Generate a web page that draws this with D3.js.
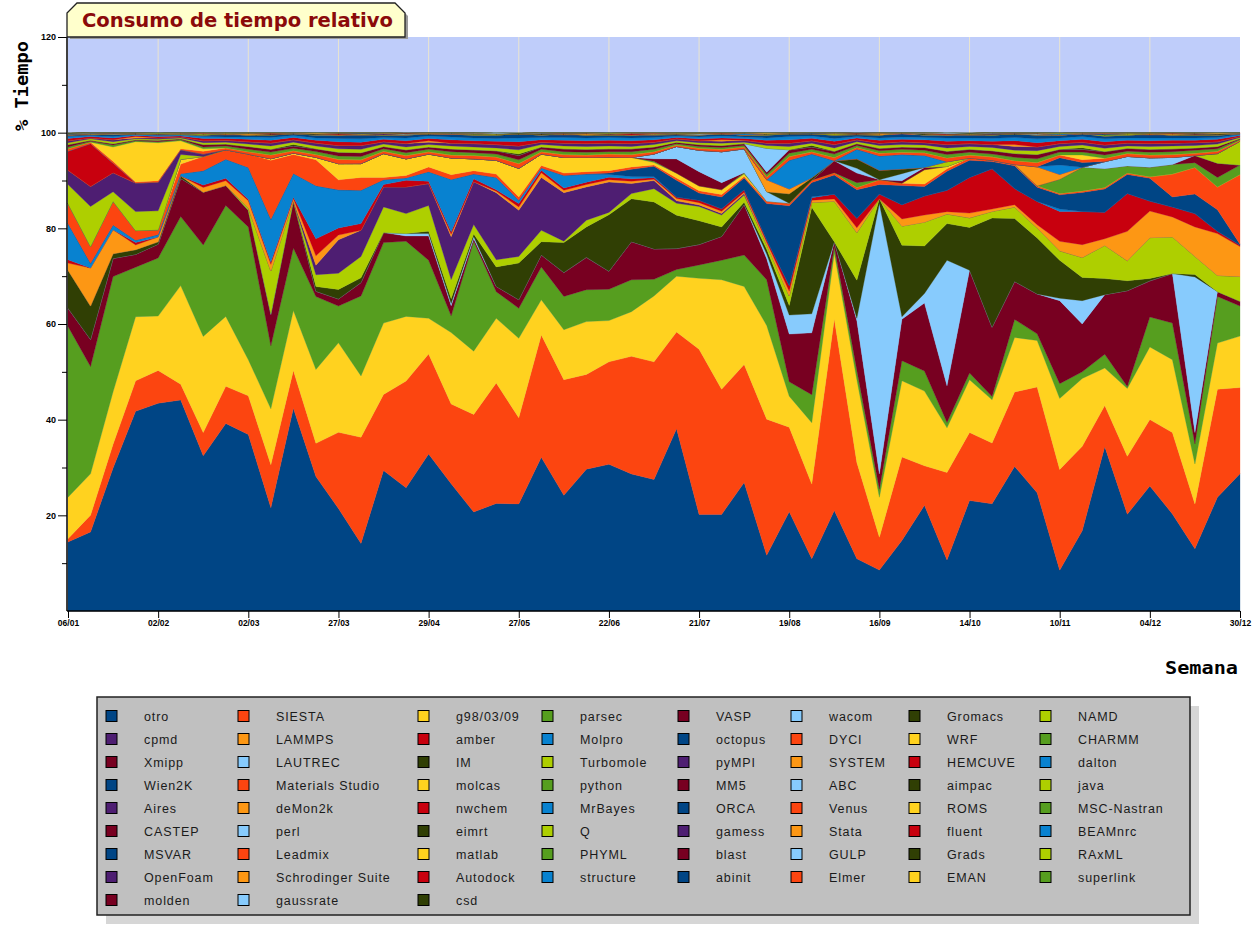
<!DOCTYPE html>
<html><head><meta charset="utf-8">
<script src="https://cdn.jsdelivr.net/npm/d3@7"></script>
<style>body{margin:0;background:#fff}svg{display:block}</style>
</head><body><svg id="c" width="1258" height="925"></svg>
<script>
// ---- data: % of time per week (53 weeks) ----
const tickWeeks  = [0,4,8,12,16,20,24,28,32,36,40,44,48,52];
const tickLabels = ["06/01","02/02","02/03","27/03","29/04","27/05","22/06","21/07","19/08","16/09","14/10","10/11","04/12","30/12"];

const otro   = [14.5,16.6,30,42,43.6,44.3,32.6,39.4,37.1,21.8,42.7,28.4,21.5,14.2,29.5,25.9,33.0,26.7,20.8,22.6,22.5,32.3,24.3,29.8,30.9,28.8,27.7,38.2,20.3,20.3,27.0,11.7,20.8,11.0,21.1,11.0,8.6,14.8,22.2,10.7,23.2,22.6,30.5,24.9,8.6,16.9,34.7,20.4,26.3,20.4,13.1,23.9,28.8];
const siesta = [0.7,3.5,5,6.4,6.9,3.3,4.9,7.8,8.1,9.1,8.0,7.0,16.0,22.3,16.0,22.4,21,16.7,20.5,25.3,18.1,25.7,24.3,19.9,21.6,24.7,24.8,20.3,34.7,26.3,24.8,28.6,17.7,15.7,40.2,20.2,6.9,17.5,8.3,18.4,14.3,12.8,15.7,22.3,21.2,17.8,8.7,12.2,14.0,17.1,9.4,22.7,18.1];
const g98    = [8.7,8.7,11,13.5,11.4,20.7,20.2,14.7,7.6,11.8,12.6,15.6,18.8,12.9,15.0,13.6,7.5,15.0,13.3,13.6,16.7,7.4,10.5,11.1,8.7,9.4,13.9,11.7,14.9,23.0,16.4,19.7,6.5,12.9,13.8,17.4,8.4,16.0,15.7,9.4,11.1,9.1,11.5,9.8,15.0,14.3,7.9,14.3,15.3,15.3,8.4,9.7,10.8];
const parsec = [35.9,22.5,24.2,10.4,12.2,14.5,19.2,23.3,27.9,13.3,13.2,15.4,7.7,16.8,16.9,15.8,12.2,3.5,23.1,5.6,6.3,6.9,7.0,6.7,6.6,6.7,3.5,1.4,2.8,4.1,6.6,9.6,3,5.9,1.4,2,1.7,4.2,4.2,1.1,1.4,0.7,3.8,1.4,3.1,1.4,2.9,0.4,6.3,7.7,4.2,9.8,6.3];
const vasp   = [3.8,5.7,3.8,2.7,2.9,8,11.1,4.2,3.5,6.6,9.9,1.1,1.5,2.8,2.1,1.1,5.1,2.1,0.5,1.1,1.8,2.5,5,6.8,3.8,8,6.4,4.4,4.3,5,10.6,4.4,10,13,1,10.4,3.2,8.7,14.3,7.7,21.6,14.6,8,8.4,17.5,10.1,12.6,20.2,7.6,10.4,2.4,1,1];
const wacom  = [0,0,0,0,0,0,0,0,0,0.2, 0,0,0,0,0,0.5,0.5,0.5,0.5,0, 0,0,0,0,0,0,0,0,0,0, 0,1,4,4,0,0.5,56.8,0.5,2,26.4, 0,0,0,0,0.5,4.9,0,0,0,0, 32.7,0,0];
const gromacs= [8,7,1,1,0.5,0.5,0,0,0,0,0,1,2,1,0,0,0.5,1,0.5,4.1,7.7,2.8,6.3,6.4,11.9,9,9.9,7,5,2,0.5,1,2,22.4,0,8,1,15,10,7.7,9,23,13.3,11.8,8,4.9,3.4,2.1,0.5,0,0.5,0,0];
const namd   = [0,0,0,0,0,0,0,0,0.5,9,0,2.5,3.4,4.5,5.4,4.2,5.4,4,2,1.5,1.4,2.4,0.3,1.4,0.5,1.1,2.8,2.5,3,2.5,1.5,1,2,1,8.5,10,0,4,5,2,2,1.4,2.4,2.1,2,4.2,7,4.2,8.6,7.7,3.8,3.4,5.2];
const cpmd   = [0,0,0,0,0,0,0,0,0,0, 0,2,7,5.5,4.2,5.6,4.6,9,9,14.1, 9.7,11.1,10.2,7,6.4,2.1,1.7,0.5,0.3,0.3, 0.3,0,0,0,0,0,0,0,0,0, 0,0,0,0,0,0,0,0,0,0, 0,0,0];
const lammps = [1.5,8,5,1,1,0,1,1,1.5,1.4,0.5,2,1,0,0,0,0,0.5,0,0.3,0.7,1,0.5,0.5,0.5,0.5,0.3,0.5,0.5,0.5,0.3,0.5,1,0.5,0.5,1,0,1.5,1.5,0.5,1,0.5,0.5,0.7,2,2.7,1.4,6.2,5.6,4.2,6.2,8.8,6.3];
const amber  = [0.7,0,0,0.5,0,0,0.5,0.5,0.3,0.5,0.3,3.6,1.5,1.4,0.5,1.4,0.5,0.5,0.6,0.3,0.7,0.5,0.5,0.5,0.5,0.5,0.3,0.3,0.5,0.5,0.5,0.5,1.2,0.5,1,2,1,3,4,4.5,7.5,8.5,3.4,4.9,6.3,7,5.6,8,2.1,2.1,2.8,0.5,0.3];
const molpro = [7.6,1,1,0.5,0.5,0.5,3,4,6.7,9, 5,11.2,8,7,1,0.5,2,11,1,2.6, 0.7,0.5,2.6,1.7,0.6,0.5,0.2,0,0,0, 0,0,0,0.2,0,0,0,0,0,0, 0,0,0,0,0.5,0,0,0,0,0, 0,0,0];
const octopus= [0,0,0,0,0,0,0,0,0,0, 0,0,0,0,0,0,0,0,0,0, 0,0,0,0,0.3,1.5,2.2,3.5,1.5,2.5, 2.5,7.6,16.7,3,4,6,2,4,2,4, 3.6,1.5,4.8,3,3,4,4.9,4,4.8,2.1, 4.1,4.5,0.2];
const dyci   = [4.2,3.5,5,2,1,2,3,2,2.8,12.5, 4,5.5,2.1,2.7,0.5,0.5,1,1,0.7,0.7, 0.7,0.5,0.5,0.5,0.5,0.5,0.3,0.5,0.5,0.5, 0.3,0.5,0.5,0.5,0.5,0.5,1,0.5,0.5,0.5, 0.5,0.3,0.3,0.3,0.3,0.3,0.3,0.3,0.3,4.8, 5.6,4.8,14.6];
const wrf    = [0,0,0,0,0,1,0,0,0,0.3, 0.3,0.5,3.4,2.9,5,3.5,2.7,3.5,2.5,2.9, 6,2.4,3.3,3,2.8,2,0.5,1,1,1, 0.5,0,0,0,0,0,0,0,3,0.5, 0,0,0,0,0,0,0,0,0,0, 0,0,0];
const charmm = [0,0,0,0,0,0,0,0,0,0, 0,0,0,0,0,0,0,0,0,0, 0,0,0,0,0,0,0.3,0,0,0, 0.3,0,0,0,0,1,0,0,0,0, 0,0,0,0,3,5,4,1.5,2,2, 1,2,2];
const xmipp  = [0,0,0,0,0,0,0,0,0,0, 0,0,0,0,0,0,0,0,0,0, 0,0,0,0,0,0,0.5,3,3,1.5, 0,0,0,0,2.5,2,0,0.5,0.5,0, 0,0,0,0,0,0,0,0,0,0, 1.5,3,0];
const lautrec= [0,0,0,0,0,0,0,0,0,0, 0,0,0,0,0,0,0,0,0,0, 0,0,0,0,0,0,1,2.6,4.5,6.5, 5,2,0,0,0,1,0,1.5,0,0, 0,0,0,0,0,0,1.5,2,2,1.5, 0,0,0];
const im     = [0,0,0,0,0,0,0,0,0,0, 0,0,0,0,0,0,0,0,0,0, 0,0,0,0,0,0,0,0,0,0, 0,0,2,0.5,0,2,2,1,0,0, 0,0,0,0,0,0,0,0,0,0, 0,0,0];
const turbomole=[4,8.4,2,4,4,1,0,0,0,0, 0,0,0,0,0,0,0,0,0,0, 0,0,0,0,0,0,0,0,0,0, 0,0,0,0,0,0,0,0,0,1, 0,0,0,0,0,0,0,0,0,0, 0,2,5];
const pympi  = [3,4.2,4,6,6,1,0.5,0,0,0, 0,0,0,0,0,0,0,0,0,0, 0,0,0,0,0,0,0,0,0,0, 0,0,0,0,0,0,0,0,0,0, 0,0,0,0,0,0,0,0,0,0, 0,0,0];
const system = [0,0,0,0,0,0,0,0,0,0, 0,0,0,0,0,0,0,0,0,0, 0,0,0,0,0,0,0,0,0,0, 0,2.5,1,0,0,0,0,0,0,0, 0,0,0,4,1,0,0,0,0,0, 0,0,0];
const hemcuve= [4,9,2,0,0,0,0,0,0,0, 0,0,0,0,0,0,0,0,0,0, 0,0,0,0,0,0,0,0,0,0, 0,0,0,0,0,0,0,0,0,0, 0,0,0,0,0,0,0,0,0,0, 0,0,0];
const dalton = [0,0,0,0,0,0,0,0,0,0, 0,0,0,0,0,0,0,0,0,0, 0,0,0,0,0,0,0,0,0,0, 0,0,6,5,0,2,3,3,2.5,0, 0,0,0,0,2,0,0,0,0,0, 0,0,0];
const wien2k = [0,0,0,0,0,0,0,0,0,0, 0,0,0,0,0,0,0,0,0,0, 0,0,0,0,0,0,0,0,0,0, 0,0,0,0,0,0,0,0,0,0, 0,0,0,0,1.5,1,0,0,0,0, 0,0,0];
const matStudio=[.5,.3,.4,.2,.3,.2,.6,.4,.5,.8,.5,.6,.9,.8,.5,.7,.5,.6,.7,.7,1,.5,.6,.5,.7,.6,.5,.3,.4,.5,.4,.6,.8,.5,.7,.4,.6,.5,.6,.8,.6,.7,.8,.9,.6,.6,.7,.6,.6,.6,.5,.5,.2];
const molcas = [0,0,3,8.5,8,1.7,0.5,0,0,0, 0,0,0,0,0,0,0,0,0,0, 0,0,0,0,0,0,0,0,0,0, 0,0,0,0,0,0,0,0,0,0, 0,0,0,0,0,1,0,0,0,0, 0,0,0];
const python = [.4,.2,.4,.2,.2,.2,.4,.4,.5,.6,.5,.6,.7,.7,.5,.6,.5,.7,.6,.6,.8,.5,.6,.6,.5,.6,.5,.3,.4,.4,.3,.5,.7,.5,.7,.4,.5,.6,.5,.7,.6,.6,.7,.8,.6,.6,.7,.5,.6,.6,.6,.5,.2];
const mm5    = [.5,.2,.3,.2,.3,.2,.5,.4,.6,.6,.5,.6,.8,.8,.5,.6,.5,.6,.6,.7,.9,.5,.6,.6,.6,.6,.5,.3,.4,.4,.4,.5,.7,.5,.6,.4,.5,.5,.6,.7,.6,.7,.8,.9,.6,.6,.7,.6,.6,.6,.5,.5,.2];
const abc    = [0,0,0,0,0,0,0,0,0,0, 0,0,0,0,0,0,0,0,0,0, 0,0,0,0,0,0,0,0,0,0, 0,5,0,0,0,0,0,0,0,0, 0,0,0,0,0,0,0,0,0,0, 0,0,0];
const aimpac = [0,0,0,0,0,0,0,0,0,0, .3,0,0,0,0,0,0,0,0,0, .3,0,0,0,0,0,0,0,0,0, 0,0,0,.3,0,0,0,0,0,0, 0,0,0,0,0,.3,0,0,0,0, 0,0,0];
const java   = [.4,.3,.4,.2,.2,.2,.4,.4,.5,.7,.5,.6,.7,.7,.5,.6,.5,.6,.6,.6,.9,.5,.6,.6,.6,.5,.5,.3,.4,.5,.3,.6,.7,.5,.7,.4,.6,.5,.5,.7,.6,.7,.7,.8,.6,.6,.7,.5,.6,.6,.5,.5,.2];
const aires  = [.4,.2,.4,.2,.3,.2,.4,.4,.5,.6,.5,.6,.7,.8,.5,.7,.5,.6,.7,.7,.8,.5,.6,.6,.6,.6,.5,.4,.4,.4,.4,.5,.7,.5,.7,.4,.5,.6,.5,.7,.6,.6,.8,.8,.6,.6,.7,.6,.6,.6,.6,.5,.2];
const demon2k= [0,0,0,.3,0,0,0,0,0,0, 0,0,0,0,0,0,.3,0,0,0, 0,0,0,0,0,0,0,0,0,.3, 0,0,0,0,0,0,0,0,0,0, 0,0,.4,0,0,0,0,0,0,0, 0,0,0];
const nwchem = [.5,.3,.4,.2,.3,.2,.5,.4,.5,.6,.5,.6,.8,.7,.5,.6,.5,.7,.6,.7,.9,.5,.6,.6,.6,.6,.5,.3,.4,.4,.4,.6,.7,.5,.7,.4,.6,.5,.6,.7,.6,.7,.8,.9,.6,.6,.7,.6,.6,.6,.5,.5,.2];
const mrbayes= [.4,.2,.3,.2,.2,.2,.4,.3,.5,.6,.4,.5,.7,.7,.4,.6,.5,.6,.6,.6,.8,.5,.6,.6,.6,.6,.5,.3,.4,.4,.3,.5,.7,.5,.6,.3,.5,.5,.5,.7,.6,.6,.7,.8,.6,.6,.6,.5,.6,.5,.5,.4,.2];
const orca   = [.3,.2,.4,.2,.2,.1,.3,.4,.4,.5,.4,.6,.7,.8,.5,.6,.5,.6,.6,.7,.9,.5,.5,.6,.5,.6,.5,.3,.4,.5,.4,.6,.6,.5,.7,.4,.6,.6,.5,.6,.6,.7,.8,.8,.6,.6,.6,.6,.6,.6,.6,.5,.2];
const venus  = [0,0,0,0,0,0,0,.3,0,0, 0,0,0,0,0,0,0,0,0,0, 0,0,.3,0,0,0,0,0,0,0, 0,0,0,0,0,0,0,.3,0,0, 0,0,0,0,0,0,0,0,.3,0, 0,0,0];
const roms   = [0,.2,0,0,0,0,0,0,0,0, 0,0,0,.3,0,0,0,0,0,0, 0,0,0,0,0,0,.3,0,0,0, 0,0,0,0,0,0,0,0,0,0, .3,0,0,0,0,0,0,0,0,0, 0,0,0];
const msc    = [0,0,0,0,0,.2,0,0,0,0, 0,0,0,0,0,0,0,0,.3,0, 0,0,0,0,0,0,0,0,0,0, 0,.3,0,0,0,0,0,0,0,0, 0,0,0,0,0,0,.3,0,0,0, 0,0,0];
const castep = [0,0,0,0,0,0,0,0,0,.3, 0,0,0,0,0,0,0,0,0,0, 0,0,0,0,.3,0,0,0,0,0, 0,0,0,0,0,.2,0,0,0,0, 0,0,0,0,0,0,0,0,0,0, .3,0,0];
const perl   = [0,0,.2,0,0,0,0,0,0,0, 0,0,0,0,0,.3,0,0,0,0, 0,0,0,0,0,0,0,0,.3,0, 0,0,0,0,0,0,0,0,0,0, 0,0,0,.3,0,0,0,0,0,0, 0,0,0];
const eimrt  = [0,0,0,0,0,0,0,0,0,0, 0,.3,0,0,0,0,0,0,0,0, 0,.3,0,0,0,0,0,0,0,0, 0,0,0,0,0,0,0,0,.3,0, 0,0,0,0,0,0,0,0,0,0, 0,.3,0];
const q      = [0,0,0,0,0,0,.3,0,0,0, 0,0,0,0,0,0,0,0,0,.3, 0,0,0,0,0,0,0,0,0,0, 0,0,0,0,.3,0,0,0,0,0, 0,0,0,0,0,0,0,.3,0,0, 0,0,0];
const gamess = [0,0,0,0,.2,0,0,0,0,0, 0,0,0,0,.3,0,0,0,0,0, 0,0,0,0,0,0,0,.2,0,0, 0,0,0,0,0,0,0,0,0,0, 0,.3,0,0,0,0,0,0,0,0, 0,0,0];
const stata  = [0,0,0,0,0,0,0,0,.3,0, 0,0,0,0,0,0,0,0,0,0, 0,0,0,.3,0,0,0,0,0,0, 0,0,0,0,0,0,.3,0,0,0, 0,0,0,0,0,0,0,0,0,.3, 0,0,0];
const fluent = [0,0,0,0,0,0,0,0,0,0, 0,0,.3,0,0,0,0,0,0,0, 0,0,0,0,0,.3,0,0,0,0, 0,0,0,0,0,0,0,0,0,.3, 0,0,0,0,0,0,0,0,0,0, 0,0,.2];
const beamnrc= [.3,0,0,0,0,0,0,0,0,0, 0,0,0,0,0,0,0,.3,0,0, 0,0,0,0,0,0,0,0,0,0, .3,0,0,0,0,0,0,0,0,0, 0,0,0,0,.3,0,0,0,0,0, 0,0,0];
const msvar  = [0,0,0,0,0,0,0,0,0,0, .2,0,0,0,0,0,0,0,0,0, 0,0,0,0,0,0,0,0,0,0, .2,0,0,0,0,0,0,0,0,0, 0,0,0,0,0,0,.2,0,0,0, 0,0,0];
const leadmix= [0,0,0,0,0,.2,0,0,0,0, 0,0,0,0,0,0,0,0,0,0, 0,0,0,0,0,.2,0,0,0,0, 0,0,0,0,0,0,0,0,0,0, 0,0,0,0,0,.2,0,0,0,0, 0,0,0];
const matlab = [0,0,0,0,0,0,0,0,0,0, 0,0,0,0,.2,0,0,0,0,0, 0,0,0,0,0,0,0,0,0,0, 0,0,0,0,.2,0,0,0,0,0, 0,0,0,0,0,0,0,0,0,0, 0,0,0];
const phyml  = [0,0,0,0,0,0,0,0,.2,0, 0,0,0,0,0,0,0,0,0,0, 0,0,0,0,0,0,0,0,.2,0, 0,0,0,0,0,0,0,0,0,0, 0,0,0,0,0,0,0,0,.2,0, 0,0,0];
const blast  = [0,0,0,.2,0,0,0,0,0,0, 0,0,0,0,0,0,0,0,0,0, 0,0,0,.2,0,0,0,0,0,0, 0,0,0,0,0,0,0,0,0,0, 0,0,0,.2,0,0,0,0,0,0, 0,0,0];
const gulp   = [0,0,0,0,0,0,0,0,0,0, 0,0,0,0,0,0,0,0,.2,0, 0,0,0,0,0,0,0,0,0,0, 0,0,0,0,0,0,0,0,.2,0, 0,0,0,0,0,0,0,0,0,0, 0,0,0];
const grads  = [0,0,0,0,0,0,0,0,0,0, 0,0,.2,0,0,0,0,0,0,0, 0,0,0,0,0,0,0,0,0,0, 0,0,.2,0,0,0,0,0,0,0, 0,0,0,0,0,0,0,0,0,0, .2,0,0];
const raxml  = [0,0,0,0,0,0,0,.2,0,0, 0,0,0,0,0,0,0,0,0,0, 0,0,0,0,0,0,0,.2,0,0, 0,0,0,0,0,0,0,0,0,0, 0,0,0,0,0,0,0,.2,0,0, 0,0,0];
const openfoam=[0,0,.2,0,0,0,0,0,0,0, 0,0,0,0,0,0,0,0,0,0, 0,0,.2,0,0,0,0,0,0,0, 0,0,0,0,0,0,0,0,0,0, 0,0,.2,0,0,0,0,0,0,0, 0,0,0];
const schrodinger=[0,0,0,0,0,0,0,0,0,0, 0,0,0,0,0,0,.2,0,0,0, 0,0,0,0,0,0,0,0,0,0, 0,0,0,0,0,0,.2,0,0,0, 0,0,0,0,0,0,0,0,0,0, 0,0,0];
const autodock=[0,0,0,0,0,0,0,0,0,.2, 0,0,0,0,0,0,0,0,0,0, 0,0,0,0,0,0,0,0,0,.2, 0,0,0,0,0,0,0,0,0,0, 0,0,0,0,0,0,0,0,0,.2, 0,0,0];
const structure=[0,.2,0,0,0,0,0,0,0,0, 0,0,0,0,0,0,0,0,0,0, 0,.2,0,0,0,0,0,0,0,0, 0,0,0,0,0,0,0,0,0,0, 0,.2,0,0,0,0,0,0,0,0, 0,0,0];
const abinit = [0,0,0,0,0,0,0,0,0,0, 0,0,0,.2,0,0,0,0,0,0, 0,0,0,0,0,0,0,0,0,0, 0,0,0,.2,0,0,0,0,0,0, 0,0,0,0,0,0,0,0,0,0, 0,0,0];
const elmer  = [0,0,0,0,0,0,.2,0,0,0, 0,0,0,0,0,0,0,0,0,0, 0,0,0,0,0,0,.2,0,0,0, 0,0,0,0,0,0,0,0,0,0, 0,0,0,0,0,0,.2,0,0,0, 0,0,0];
const eman   = [0,0,0,0,0,0,0,0,0,0, 0,.2,0,0,0,0,0,0,0,0, 0,0,0,0,0,0,0,0,0,0, 0,.2,0,0,0,0,0,0,0,0, 0,0,0,0,0,0,0,0,0,0, 0,.2,0];
const superlink=[0,0,0,0,.2,0,0,0,0,0, 0,0,0,0,0,0,0,0,0,0, 0,0,0,0,.2,0,0,0,0,0, 0,0,0,0,0,0,0,0,0,0, 0,0,0,0,.2,0,0,0,0,0, 0,0,0];
const molden = [0,0,0,0,0,0,0,0,0,0, 0,0,0,0,0,.2,0,0,0,0, 0,0,0,0,0,0,0,0,0,0, 0,0,0,0,0,.2,0,0,0,0, 0,0,0,0,0,0,0,0,0,0, 0,0,0];
const gaussrate=[0,0,0,0,0,0,0,0,0,0, 0,0,0,0,0,0,0,0,0,.2, 0,0,0,0,0,0,0,0,0,0, 0,0,0,0,0,0,0,0,0,.2, 0,0,0,0,0,0,0,0,0,0, 0,0,0];
const csd    = [.2,0,0,0,0,0,0,0,0,0, 0,0,0,0,0,0,0,0,0,0, .2,0,0,0,0,0,0,0,0,0, 0,0,0,0,0,0,0,0,0,0, .2,0,0,0,0,0,0,0,0,0, 0,0,0];

// series names in stacking order (legend is row-major, 8 columns)
const names = ["otro","SIESTA","g98/03/09","parsec","VASP","wacom","Gromacs","NAMD",
 "cpmd","LAMMPS","amber","Molpro","octopus","DYCI","WRF","CHARMM",
 "Xmipp","LAUTREC","IM","Turbomole","pyMPI","SYSTEM","HEMCUVE","dalton",
 "Wien2K","Materials Studio","molcas","python","MM5","ABC","aimpac","java",
 "Aires","deMon2k","nwchem","MrBayes","ORCA","Venus","ROMS","MSC-Nastran",
 "CASTEP","perl","eimrt","Q","gamess","Stata","fluent","BEAMnrc",
 "MSVAR","Leadmix","matlab","PHYML","blast","GULP","Grads","RAxML",
 "OpenFoam","Schrodinger Suite","Autodock","structure","abinit","Elmer","EMAN","superlink",
 "molden","gaussrate","csd"];
const seriesValues = [otro,siesta,g98,parsec,vasp,wacom,gromacs,namd,
 cpmd,lammps,amber,molpro,octopus,dyci,wrf,charmm,
 xmipp,lautrec,im,turbomole,pympi,system,hemcuve,dalton,
 wien2k,matStudio,molcas,python,mm5,abc,aimpac,java,
 aires,demon2k,nwchem,mrbayes,orca,venus,roms,msc,
 castep,perl,eimrt,q,gamess,stata,fluent,beamnrc,
 msvar,leadmix,matlab,phyml,blast,gulp,grads,raxml,
 openfoam,schrodinger,autodock,structure,abinit,elmer,eman,superlink,
 molden,gaussrate,csd];
const palette = ["#004585","#fc4510","#ffd21f","#569e1f","#780021","#87cbfd",
                 "#303f04","#aecf00","#4e1e72","#fd9714","#c8000e","#0882d0"];

// ---- drawing ----
const svg = d3.select("#c");
const X0 = 68, X1 = 1240, Y0 = 611, Y1 = 37;
const x = d3.scaleLinear().domain([0,52]).range([X0,X1]);
const y = d3.scaleLinear().domain([0,120]).range([Y0,Y1]);
const color = i => palette[i % palette.length];

// plot background
svg.append("rect").attr("x",X0).attr("y",Y1).attr("width",X1-X0).attr("height",Y0-Y1).attr("fill","#bfcdfa");
svg.append("g").selectAll("line").data(tickWeeks.slice(1,-1)).join("line")
  .attr("x1",d=>x(d)).attr("x2",d=>x(d)).attr("y1",Y1).attr("y2",Y0)
  .attr("stroke","#e9e4cf").attr("stroke-width",1);

const weekIdx = d3.range(otro.length);
const table = weekIdx.map(w => { const o = {w}; seriesValues.forEach((s,i)=>{ o[i] = s[w]; }); return o; });
const layers = d3.stack().keys(d3.range(names.length)).offset(d3.stackOffsetExpand)(table);
const area = d3.area().x(d=>x(d.data.w)).y0(d=>y(d[0]*100)).y1(d=>y(d[1]*100));
svg.append("g").selectAll("path").data(layers).join("path")
  .attr("d",area).attr("fill",(d,i)=>color(i)).attr("stroke",(d,i)=>color(i)).attr("stroke-width",0.3);

// axes
const axFont = "'Liberation Sans Narrow','Liberation Sans',Arial,sans-serif";
const yAxis = svg.append("g").attr("transform",`translate(${X0-1},0)`)
  .call(d3.axisLeft(y).tickValues([20,40,60,80,100,120]).tickSize(9).tickPadding(2).tickFormat(d3.format("d")));
yAxis.select(".domain").attr("stroke","#000").attr("stroke-width",1.5).attr("d",`M0,${Y0}V${Y1}`);
yAxis.selectAll("text").attr("font-family",axFont).attr("font-size",9).attr("font-weight","bold").attr("fill","#000").attr("font-stretch","condensed");
svg.append("g").attr("transform",`translate(${X0-1},0)`)
  .call(d3.axisLeft(y).tickValues([10,30,50,70,90,110]).tickSize(5).tickFormat(""))
  .select(".domain").remove();

const xAxis = svg.append("g").attr("transform",`translate(0,${Y0})`)
  .call(d3.axisBottom(x).tickValues(tickWeeks).tickSize(7).tickPadding(2).tickFormat((d,i)=>tickLabels[i]));
xAxis.select(".domain").attr("stroke","#000").attr("stroke-width",1.5).attr("d",`M${X0-1},0H${X1}`);
xAxis.selectAll("text").attr("font-family",axFont).attr("font-size",8.5).attr("font-weight","bold").attr("fill","#000").attr("font-stretch","condensed");

// axis titles
svg.append("text").attr("transform","translate(28,86) rotate(-90)").attr("text-anchor","middle")
  .attr("font-family","'DejaVu Sans Mono',monospace").attr("font-weight","bold").attr("font-size",18)
  .attr("textLength",90).attr("lengthAdjust","spacingAndGlyphs").text("% Tiempo");
svg.append("text").attr("x",1165).attr("y",674)
  .attr("font-family","'DejaVu Sans Mono',monospace").attr("font-weight","bold").attr("font-size",18)
  .attr("textLength",73).attr("lengthAdjust","spacingAndGlyphs").text("Semana");

// title box
svg.append("path").attr("d","M70,39 V16 L80,6 H398 L408,16 V39 Z").attr("fill","#9a9a9a");
svg.append("path").attr("d","M67,37 V13 L77,3 H395 L405,13 V37 Z").attr("fill","#ffffcc").attr("stroke","#222").attr("stroke-width",1.3);
svg.append("text").attr("x",82).attr("y",27).attr("font-family","'DejaVu Sans',Verdana,sans-serif")
  .attr("font-weight","bold").attr("font-size",19).attr("fill","#8b0a0a")
  .attr("textLength",311).attr("lengthAdjust","spacingAndGlyphs").text("Consumo de tiempo relativo");

// legend
const LX = 97, LY = 697, LW = 1093, LH = 218;
svg.append("rect").attr("x",LX+9).attr("y",LY+9).attr("width",LW).attr("height",LH).attr("fill","#d6d6d6");
svg.append("rect").attr("x",LX).attr("y",LY).attr("width",LW).attr("height",LH).attr("fill","#c0c0c0").attr("stroke","#222").attr("stroke-width",1.5);
const colSw = [106,238,418,542,678,791,909,1040];
const leg = svg.append("g").selectAll("g").data(names).join("g")
  .attr("transform",(d,i)=>`translate(${colSw[i%8]},${716 + Math.floor(i/8)*23})`);
leg.append("rect").attr("x",0).attr("y",-5.5).attr("width",11).attr("height",11)
  .attr("fill",(d,i)=>color(i)).attr("stroke","#000").attr("stroke-width",1);
leg.append("text").attr("x",38).attr("y",4.5).attr("font-family","'Liberation Sans',Arial,sans-serif")
  .attr("font-size",12.5).attr("letter-spacing",0.9).attr("fill","#1a1a1a").text(d=>d);
</script></body></html>
